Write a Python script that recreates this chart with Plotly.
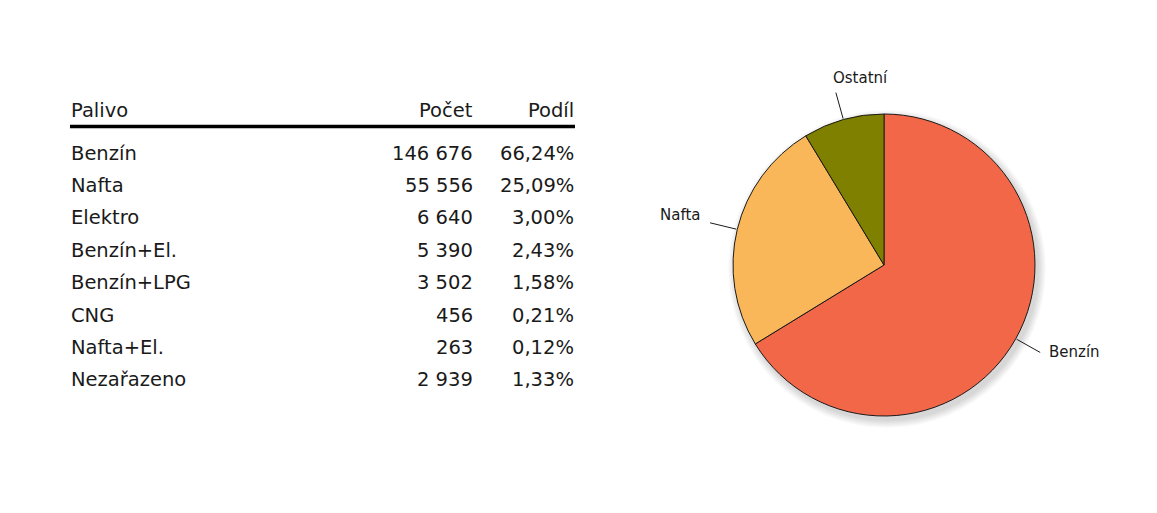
import math
import plotly.graph_objects as go

# ---------------- data ----------------
fuels = ["Benzín", "Nafta", "Elektro", "Benzín+El.", "Benzín+LPG", "CNG", "Nafta+El.", "Nezařazeno"]
counts = [146676, 55556, 6640, 5390, 3502, 456, 263, 2939]
shares = [66.24, 25.09, 3.00, 2.43, 1.58, 0.21, 0.12, 1.33]
header = ["Palivo", "Počet", "Podíl"]

pie_labels = ["Benzín", "Nafta", "Ostatní"]
pie_values = [counts[0], counts[1], sum(counts[2:])]
pie_colors = ["#F26748", "#F9B75A", "#808000"]

# ---------------- layout constants (pixels) ----------------
W, H = 1157, 513
OFF = 8  # page body margin
FONT = "DejaVu Sans"
TXT = "#1a1a1a"

def px(x):
    return (x - OFF) / W

def py(y):
    return 1 - (y - OFF) / H

def fmt_count(v):
    return f"{v:,}".replace(",", "\u00a0")

def fmt_share(v):
    return f"{v:.2f}".replace(".", ",") + "%"

fig = go.Figure()

# ---------------- pie ----------------
CX, CY, R = 884, 265, 151
fig.add_trace(go.Pie(
    labels=pie_labels,
    values=pie_values,
    sort=False,
    direction="clockwise",
    rotation=0,
    textinfo="none",
    marker=dict(colors=pie_colors, line=dict(color="#1a1a1a", width=1)),
    domain=dict(x=[px(CX - R), px(CX + R)], y=[py(CY + R), py(CY - R)]),
    showlegend=False,
    hoverinfo="label+value+percent",
))

shapes = []
# soft shadow behind pie
for k in range(8):
    rr = R + 1 + k * 1.0
    ox, oy = CX + 3, CY + 4
    shapes.append(dict(type="circle", xref="paper", yref="paper", layer="below",
                       x0=px(ox - rr), x1=px(ox + rr), y0=py(oy + rr), y1=py(oy - rr),
                       fillcolor="rgba(0,0,0,0.018)", line=dict(width=0)))

annotations = []
label_xanchor = ["left", "right", "left"]
label_yanchor = ["middle", "bottom", "bottom"]
label_dx = [8, -8, -4]
label_dy = [0, 2, -5]

total = sum(pie_values)
cum = 0.0
for i, (lab, v) in enumerate(zip(pie_labels, pie_values)):
    mid = (cum + v / 2) / total * 2 * math.pi
    cum += v
    s, c = math.sin(mid), math.cos(mid)
    x0, y0 = CX + (R + 1) * s, CY - (R + 1) * c
    x1, y1 = CX + (R + 28) * s, CY - (R + 28) * c
    shapes.append(dict(type="line", xref="paper", yref="paper",
                       x0=px(x0), y0=py(y0), x1=px(x1), y1=py(y1),
                       line=dict(color="#1a1a1a", width=1)))
    annotations.append(dict(text=lab, xref="paper", yref="paper",
                            x=px(x1 + label_dx[i]), y=py(y1 + label_dy[i]),
                            xanchor=label_xanchor[i], yanchor=label_yanchor[i],
                            showarrow=False, borderpad=0,
                            font=dict(family=FONT, size=15, color=TXT)))

# ---------------- table ----------------
COL_NAME_X, COL_COUNT_X, COL_SHARE_X = 70, 474, 575
HEADER_Y, ROW0_Y, ROW_STEP = 110, 153, 32.4
TFS = 19.5

def tcell(text, x, y, anchor):
    annotations.append(dict(text=text, xref="paper", yref="paper",
                            x=px(x), y=py(y), xanchor=anchor, yanchor="middle",
                            showarrow=False, borderpad=0,
                            font=dict(family=FONT, size=TFS, color=TXT)))

tcell(header[0], COL_NAME_X, HEADER_Y, "left")
tcell(header[1], COL_COUNT_X, HEADER_Y, "right")
tcell(header[2], COL_SHARE_X, HEADER_Y, "right")

shapes.append(dict(type="line", xref="paper", yref="paper",
                   x0=px(COL_NAME_X), x1=px(COL_SHARE_X), y0=py(126.5), y1=py(126.5),
                   line=dict(color="#000000", width=3.5)))

for i, (f, n, s) in enumerate(zip(fuels, counts, shares)):
    y = ROW0_Y + i * ROW_STEP
    tcell(f, COL_NAME_X, y, "left")
    tcell(fmt_count(n), COL_COUNT_X, y, "right")
    tcell(fmt_share(s), COL_SHARE_X, y, "right")

fig.update_layout(
    width=W, height=H,
    margin=dict(l=0, r=0, t=0, b=0),
    paper_bgcolor="white", plot_bgcolor="white",
    shapes=shapes, annotations=annotations,
    font=dict(family=FONT, color=TXT),
)

fig.write_html("out.html")
